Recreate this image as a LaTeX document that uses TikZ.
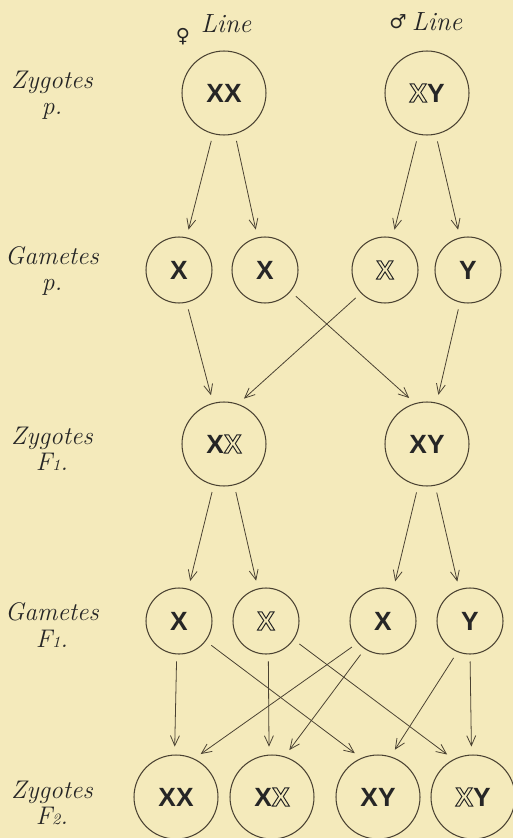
\documentclass[tikz,border=0pt]{standalone}
\usepackage{fontspec}
\newfontfamily\letterfont{Liberation Sans}
\newfontfamily\symfont{DejaVu Sans}
\usetikzlibrary{arrows.meta}
\definecolor{paper}{HTML}{F4EABB}
\definecolor{ink}{HTML}{4A4232}
% outlined letter (text render mode 1)
\newcommand{\hollowX}{\special{pdf:literal direct 1 Tr 0.55 w}X\special{pdf:literal direct 0 Tr}}
\tikzset{
  zyg/.style={circle, draw=ink, line width=0.6pt, inner sep=0pt, outer sep=0pt, minimum size=1.68cm,
    font=\letterfont\bfseries\fontsize{15}{15}\selectfont, text=black!85},
  gam/.style={zyg, minimum size=1.32cm},
  lab/.style={font=\itshape\fontsize{14.5}{15}\selectfont, text=black!85, inner sep=0pt, align=center},
  link/.style={-{Straight Barb[length=2mm,width=1.8mm]}, ink, line width=0.45pt, shorten <=0.15cm, shorten >=0.17cm}
}
\begin{document}
\begin{tikzpicture}[x=0.02cm, y=-0.02cm]
    \useasboundingbox (0,0) rectangle (513,838);
    \fill[paper] (0,0) rectangle (513,838);
    % row labels
    \foreach \name/\y/\word/\gen in {zp/95/Zygotes/p., gp/271/Gametes/p., zf/449/Zygotes/F{\small 1}., gf/625/Gametes/F{\small 1}., zs/803/Zygotes/F{\small 2}.}
        \node[lab] (l\name) at (52,\y) {\word\\\gen};
    \node[lab, font=\itshape\fontsize{15}{16}\selectfont] (linef) at (226,24) {Line};
    \node[font=\symfont\fontsize{11}{11}\selectfont, text=black!85] (symf) at (183,37) {♀};
    \node[lab, font=\itshape\fontsize{15}{16}\selectfont] (linem) at (437,22) {Line};
    \node[font=\symfont\fontsize{11}{11}\selectfont, text=black!85] (symm) at (398,22) {♂};
    % zygotes and gametes
    \foreach \name/\x/\y/\txt in {zpa/224/93/XX, zpb/427/93/{\hollowX Y}, zfa/224/444/{X\hollowX}, zfb/427/444/XY,
        zsa/176/797/XX, zsb/272/797/{X\hollowX}, zsc/378/797/XY, zsd/473/797/{\hollowX Y}}
        \node[zyg] (\name) at (\x,\y) {\txt};
    \foreach \name/\x/\y/\txt in {gpa/179/270/X, gpb/265/270/X, gpc/385/270/\hollowX, gpd/468/270/Y,
        gfa/179/621/X, gfb/266/621/\hollowX, gfc/383/621/X, gfd/470/621/Y}
        \node[gam] (\name) at (\x,\y) {\txt};
    % arrows
    \foreach \a/\p/\b/\q in {zpa/255/gpa/77, zpa/-75/gpb/103, zpb/258/gpc/77, zpb/-78/gpd/104,
        gpa/-77/zfa/105, gpb/-40/zfb/106, gpc/224/zfa/71, gpd/256/zfb/77,
        zfa/256/gfa/74, zfa/-76/gfb/104, zfb/258/gfc/72, zfb/-79/gfd/109,
        gfa/-94/zsa/92, gfa/-37/zsc/113, gfb/-86/zsb/94, gfb/-34/zsd/117,
        gfc/221/zsa/65, gfc/237/zsb/73, gfd/248/zsc/73, gfd/-90/zsd/92}
        \draw[link] (\a.\p) -- (\b.\q);
\end{tikzpicture}
\end{document}
